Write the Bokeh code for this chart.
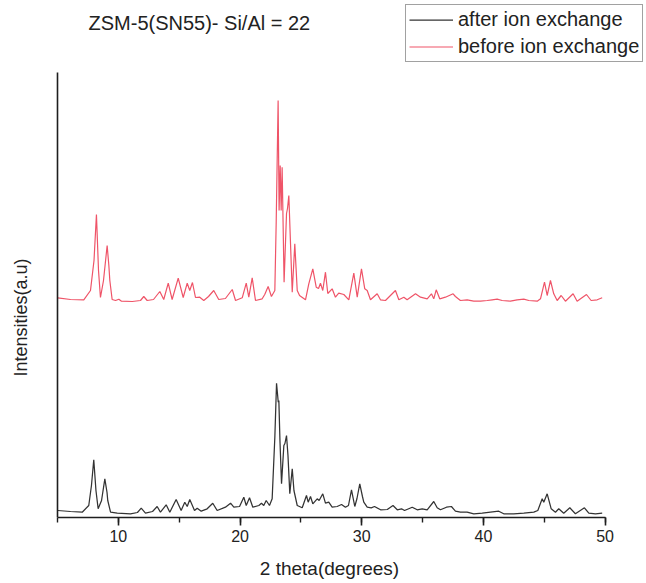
import math
from bokeh.plotting import figure
from bokeh.models import (Range1d, SingleIntervalTicker, FixedTicker, Legend,
                          LegendItem, Label)
from bokeh.embed import file_html
from bokeh.resources import INLINE

title_text = "ZSM-5(SN55)- Si/Al = 22"
x_label = "2 theta(degrees)"
y_label = "Intensities(a.u)"
series_names = ["after ion exchange", "before ion exchange"]
series_colors = ["#333333", "#ef5468"]

# 2 theta (degrees) and intensity (a.u., as plotted incl. offset)
before_2theta = [5.02, 6.07, 7.16, 7.71, 8.0, 8.20, 8.37, 8.53, 8.78, 9.08, 9.22, 9.30, 9.49,
                 9.77, 10.04, 10.26, 11.14, 11.82, 12.09, 12.37, 12.89, 13.41, 13.73, 14.10,
                 14.42, 14.92, 15.33, 15.66, 15.87, 16.09, 16.34, 16.69, 17.02, 17.41, 17.84,
                 18.25, 18.80, 19.36, 19.63, 20.18, 20.51, 20.72, 21.00, 21.27, 21.82, 22.03,
                 22.31, 22.58, 22.86, 22.97, 23.13, 23.21, 23.30, 23.38, 23.46, 23.62, 23.82,
                 23.90, 24.01, 24.11, 24.29, 24.50, 24.70, 24.89, 25.38, 25.65, 25.98, 26.26,
                 26.45, 26.61, 26.80, 27.02, 27.21, 27.57, 27.84, 28.11, 28.53, 28.94, 29.35,
                 29.63, 29.98, 30.25, 30.45, 30.72, 31.27, 31.54, 31.95, 32.77, 33.05, 33.46,
                 33.73, 34.42, 34.83, 35.38, 35.73, 35.92, 36.12, 36.41, 36.88, 37.51, 37.70,
                 38.11, 38.66, 39.21, 39.76, 40.31, 40.72, 41.13, 41.54, 42.22, 42.77, 43.32,
                 43.73, 44.42, 44.69, 45.02, 45.24, 45.51, 45.78, 46.06, 46.39, 46.74, 47.37,
                 47.70, 48.47, 48.85, 49.35, 49.76]
before_intensity = [219.7, 218, 217.7, 227, 257, 303, 247, 220, 237, 272, 252, 237, 218,
                    217, 218.3, 216.3, 216, 217, 221, 217, 218, 226, 218, 234.3,
                    218, 239.3, 220, 234.3, 227, 235, 220, 220.3, 217, 221, 227,
                    218, 219, 228, 217, 219.7, 234.3, 220.3, 239.7, 217, 218.7, 223,
                    231, 221, 227, 294, 417, 307, 352, 307, 350.3, 235.3, 304,
                    309, 322, 287, 225.3, 273.7, 227, 222, 217.7, 233.7, 248.7, 230.3,
                    229, 234.3, 227, 245.3, 224, 228.7, 220.3, 224.3, 223, 217.7, 244.3,
                    220.3, 248.7, 228.7, 227, 217.7, 223.7, 217.7, 217, 227, 217.7, 220.3,
                    217.7, 223.7, 220.3, 218.7, 223.7, 218.7, 227.7, 218.7, 220.3, 223.7, 221,
                    217, 217.7, 216.3, 216.3, 217, 217.7, 218.3, 217, 216.3, 217.7, 218.3,
                    217, 216.3, 218.7, 235.3, 222, 237, 223.7, 217, 222, 216.3, 223.7,
                    216.3, 223, 217, 217.7, 219.7]

after_2theta = [5.02, 6.07, 7.03, 7.57, 7.79, 7.98, 8.16, 8.34, 8.62, 8.89, 9.07, 9.13, 9.36,
                9.91, 11.0, 11.57, 11.88, 12.23, 12.81, 13.19, 13.46, 13.93, 14.23, 14.75,
                15.16, 15.46, 15.66, 15.87, 16.26, 16.48, 16.81, 17.30, 17.76, 18.12, 18.80,
                19.22, 19.49, 19.96, 20.31, 20.51, 20.78, 21.05, 21.55, 21.76, 21.95, 22.15,
                22.42, 22.64, 22.86, 23.00, 23.14, 23.19, 23.28, 23.41, 23.60, 23.69, 23.82,
                23.94, 24.09, 24.29, 24.43, 24.70, 25.11, 25.46, 25.60, 25.79, 25.98, 26.34,
                26.50, 26.80, 27.02, 27.29, 27.57, 27.98, 28.34, 28.66, 28.91, 29.16, 29.43,
                29.61, 29.84, 30.06, 30.17, 30.45, 30.78, 31.05, 31.55, 32.10, 32.57, 32.92,
                33.27, 33.52, 34.15, 34.56, 34.97, 35.38, 35.92, 36.20, 36.47, 36.96, 37.37,
                37.70, 38.11, 38.66, 39.21, 39.90, 40.58, 41.26, 41.67, 42.49, 43.32, 44.14,
                44.47, 44.83, 44.96, 45.24, 45.57, 45.92, 46.19, 46.60, 47.10, 47.56, 48.30,
                48.66, 49.21, 49.76]
after_intensity = [7, 6, 5.3, 12, 32, 57.7, 27, 8.7, 17, 38.7, 25, 17, 5.3,
                   4.3, 3.7, 5, 9.3, 4.3, 6, 11, 5.3, 12.7, 5.3, 18,
                   7, 15.3, 11, 18, 7, 9.3, 6.3, 8.7, 14.3, 7, 10.3,
                   14.3, 10.3, 11, 20.3, 12, 19.7, 10.3, 12, 14.3, 12, 17,
                   12, 18.7, 80.3, 134.3, 115.3, 117, 77, 33.7, 72, 74, 82,
                   62, 23.7, 48.7, 27, 12, 9.7, 22, 15.3, 21, 13.7, 18.7,
                   17, 23.7, 14.3, 15.3, 10.3, 11, 13, 10.3, 12, 27.7, 11,
                   19, 33.7, 21, 15.3, 10.3, 9.7, 11, 7.7, 8, 12, 7.7,
                   8.7, 7, 10.3, 7.7, 8.7, 7.7, 16, 9.7, 7.7, 10.3, 11,
                   6.3, 5.3, 5.3, 3.7, 4.3, 5.3, 6.3, 3.7, 3.7, 4.3, 5.3,
                   7, 18.7, 15.3, 23.7, 8.7, 5.3, 8.7, 4.3, 9.7, 3.7, 9.7,
                   4.3, 3.7, 4.3]

x_start, x_end = 5, 50          # drawn x axis extent (degrees)
y_axis_top = 445                 # drawn y axis extent (a.u.)
x_ticks_interval = 10

FONT = "Liberation Sans"
TEXT_COLOR = "#222222"
AXIS_COLOR = "#1e1e1e"

PX_PER_DEG = 12.169
AXIS_X_PX = 57                   # where the y axis stands in the picture
FRAME_LEFT = 12                  # frame starts here (keeps x label centred near 331)

# The frame covers nearly the whole canvas except the bottom strip, so the title,
# legend and y label sit inside it; the axes are limited with bounds / fixed_location.
p = figure(width=646, height=583, output_backend="svg", toolbar_location=None,
           x_range=Range1d(x_start - (AXIS_X_PX - FRAME_LEFT) / PX_PER_DEG,
                           x_start + (646 - AXIS_X_PX) / PX_PER_DEG),
           y_range=Range1d(0, 517),
           min_border_left=FRAME_LEFT, min_border_right=0, min_border_top=0,
           min_border_bottom=66)
p.outline_line_color = None
p.xgrid.visible = False
p.ygrid.visible = False

r_after = p.line(after_2theta, after_intensity, line_color=series_colors[0], line_width=1.25)
r_before = p.line(before_2theta, before_intensity, line_color=series_colors[1], line_width=1.2)

# x axis
xa = p.xaxis[0]
xa.bounds = (x_start, x_end)
xa.ticker = SingleIntervalTicker(interval=x_ticks_interval, num_minor_ticks=2)
xa.axis_line_color = AXIS_COLOR
xa.axis_line_width = 1.6
xa.major_tick_line_color = AXIS_COLOR
xa.major_tick_line_width = 1.6
xa.minor_tick_line_color = AXIS_COLOR
xa.minor_tick_line_width = 1.4
xa.major_tick_out = 8
xa.major_tick_in = 0
xa.minor_tick_out = 5
xa.minor_tick_in = 0
xa.major_label_text_font = FONT
xa.major_label_text_font_size = "16px"
xa.major_label_text_color = TEXT_COLOR
xa.major_label_standoff = 4
xa.axis_label = x_label
xa.axis_label_text_font = FONT
xa.axis_label_text_font_size = "19px"
xa.axis_label_text_font_style = "normal"
xa.axis_label_text_color = TEXT_COLOR
xa.axis_label_standoff = 13

# y axis: line only, drawn at 2theta = x_start
ya = p.yaxis[0]
ya.fixed_location = x_start
ya.bounds = (0, y_axis_top)
ya.ticker = FixedTicker(ticks=[])
ya.axis_line_color = AXIS_COLOR
ya.axis_line_width = 1.6
ya.major_tick_line_color = None
ya.minor_tick_line_color = None
ya.major_tick_out = 0
ya.major_tick_in = 0
ya.major_label_standoff = 0

# y label
p.add_layout(Label(x=20.5 - FRAME_LEFT, y=200, x_units="screen", y_units="screen",
                   text=y_label, text_font=FONT, text_font_size="18px",
                   text_color=TEXT_COLOR, text_align="center", text_baseline="middle",
                   angle=math.pi / 2))

# title
p.add_layout(Label(x=88 - FRAME_LEFT, y=495, x_units="screen", y_units="screen",
                   text=title_text, text_font=FONT, text_font_size="20px",
                   text_color=TEXT_COLOR, text_align="left", text_baseline="middle"))

legend = Legend(items=[LegendItem(label=series_names[0], renderers=[r_after]),
                       LegendItem(label=series_names[1], renderers=[r_before])],
                location=(405 - FRAME_LEFT, 455))
legend.label_text_font = FONT
legend.label_text_font_size = "20px"
legend.label_text_color = TEXT_COLOR
legend.glyph_width = 44
legend.glyph_height = 23
legend.label_height = 23
legend.label_standoff = 5
legend.padding = 3
legend.spacing = 4
legend.margin = 0
legend.border_line_color = "#444444"
legend.border_line_width = 1
legend.background_fill_alpha = 0
p.add_layout(legend, "center")

open("out.html", "w").write(file_html(p, INLINE))
